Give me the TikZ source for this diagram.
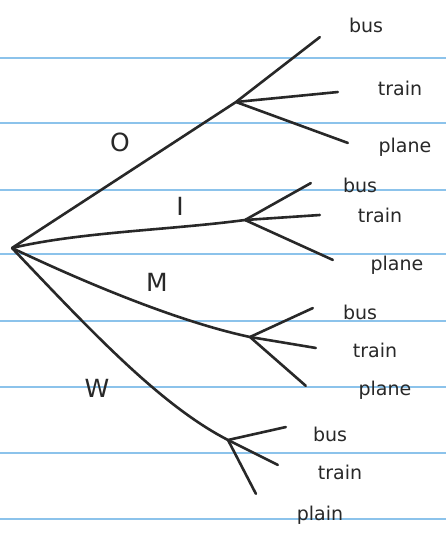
\documentclass[tikz,border=0pt]{standalone}
\usepackage{fontspec}
\setmainfont{DejaVu Sans}
\definecolor{rule}{RGB}{140,195,235}
\definecolor{ink}{RGB}{40,40,40}
\begin{document}
\begin{tikzpicture}[x=1pt,y=-1pt,
  edge/.style={draw=ink,line width=2.6pt,line cap=round},
  pt/.style={inner sep=0pt,minimum size=0pt},
  leaf/.style={font=\fontsize{19}{22}\selectfont,text=ink,inner sep=1pt},
  blab/.style={font=\fontsize{25}{29}\selectfont,text=ink,inner sep=1pt}]
\useasboundingbox[fill=white] (0,0) rectangle (446,534);
\foreach \yy in {58,123,190,254,321,387,453,519}
  \draw[rule,line width=1.3pt] (0,\yy) -- (446,\yy);
% points
\node[pt] (r) at (12,248) {};
\node[pt] (o) at (236,102) {};
\node[pt] (i) at (245,220) {};
\node[pt] (m) at (250,337) {};
\node[pt] (w) at (228,440) {};
\node[pt] (ob) at (320,37) {};
\node[pt] (ot) at (338,92) {};
\node[pt] (op) at (348,143) {};
\node[pt] (ib) at (311,183) {};
\node[pt] (it) at (320,215) {};
\node[pt] (ip) at (333,260) {};
\node[pt] (mb) at (313,308) {};
\node[pt] (mt) at (316,348) {};
\node[pt] (mp) at (306,386) {};
\node[pt] (wb) at (286,427) {};
\node[pt] (wt) at (278,465) {};
\node[pt] (wp) at (256,494) {};
% edges
\draw[edge] (r) -- (o);
\draw[edge] (r) .. controls (80,232) and (170,230) .. (i);
\draw[edge] (r) .. controls (90,285) and (180,322) .. (m);
\draw[edge] (r) .. controls (90,330) and (160,405) .. (w);
\foreach \a/\b in {o/ob,o/ot,o/op,i/ib,i/it,i/ip,m/mb,m/mt,m/mp,w/wb,w/wt,w/wp}
  \draw[edge] (\a) -- (\b);
% branch labels
\node[blab] (lo) at (120,142) {O};
\node[blab] (li) at (180,206) {I};
\node[blab] (lm) at (157,282) {M};
\node[blab] (lw) at (97,388) {W};
% leaf labels
\node[leaf] (tob) at (366,25) {bus};
\node[leaf] (tot) at (400,88) {train};
\node[leaf] (top) at (405,147) {plane};
\node[leaf] (tib) at (360,185) {bus};
\node[leaf] (tit) at (380,215) {train};
\node[leaf] (tip) at (397,265) {plane};
\node[leaf] (tmb) at (360,312) {bus};
\node[leaf] (tmt) at (375,350) {train};
\node[leaf] (tmp) at (385,390) {plane};
\node[leaf] (twb) at (330,434) {bus};
\node[leaf] (twt) at (340,472) {train};
\node[leaf] (twp) at (320,515) {plain};
\end{tikzpicture}
\end{document}
